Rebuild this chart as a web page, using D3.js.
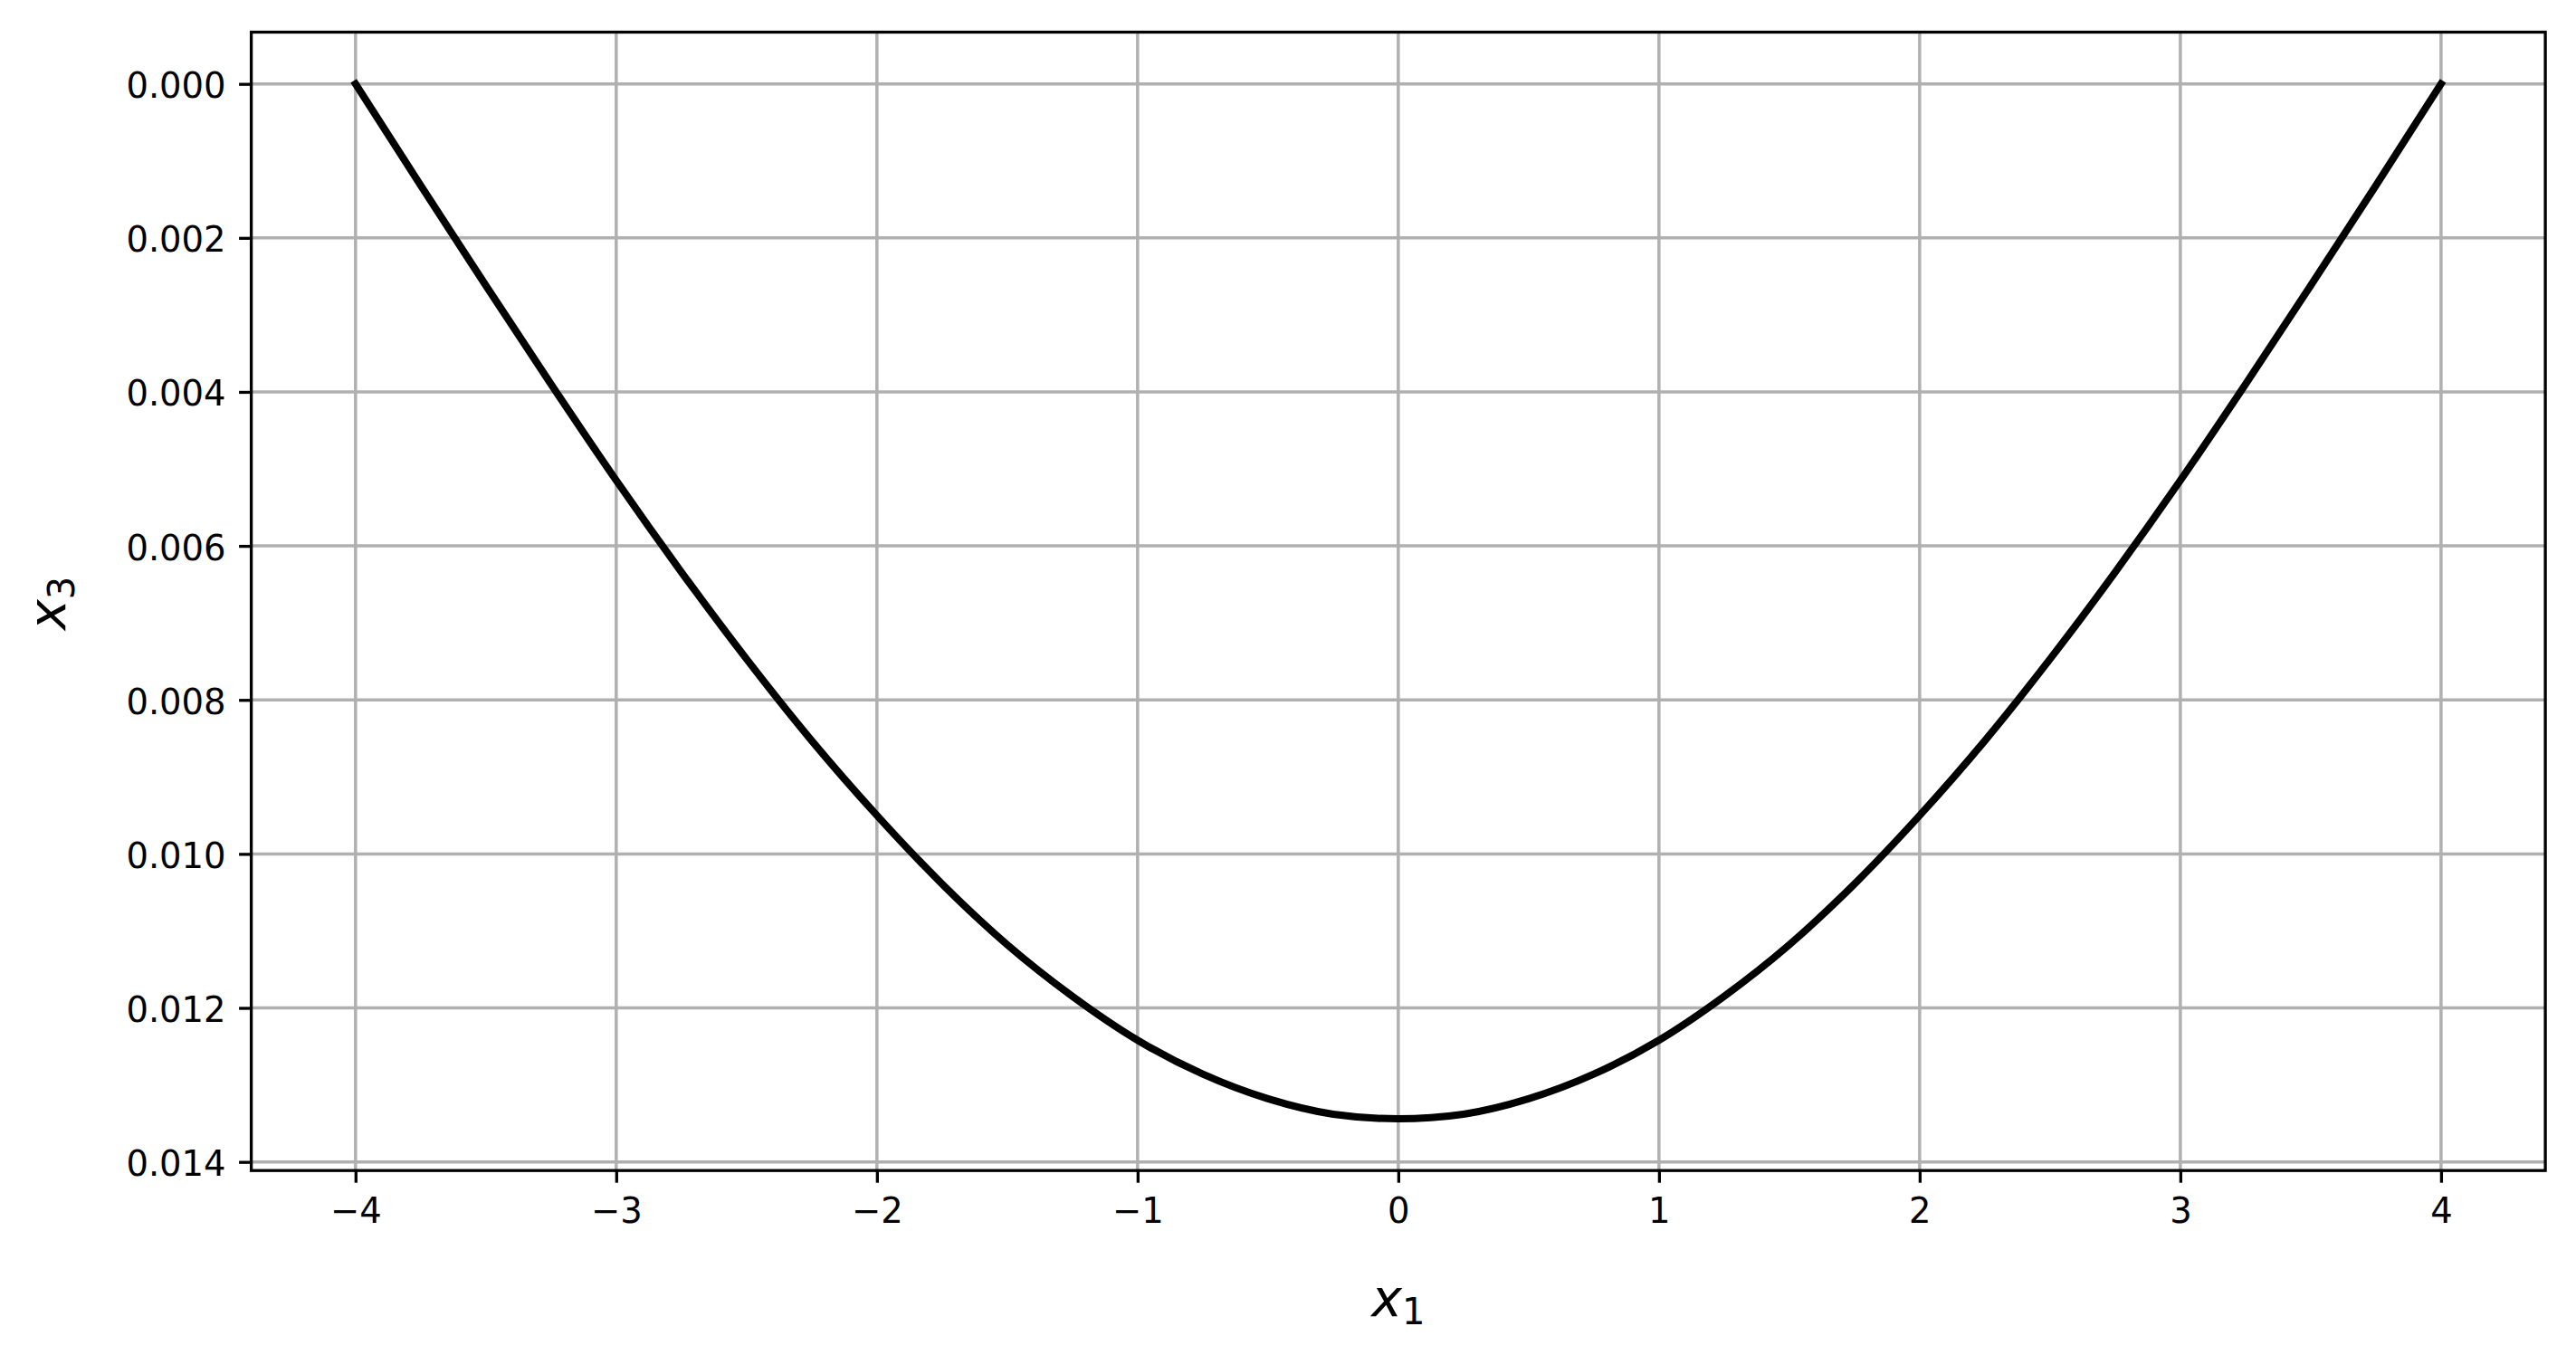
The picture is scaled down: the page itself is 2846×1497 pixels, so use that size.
<!DOCTYPE html>
<html>
<head>
<meta charset="utf-8">
<script src="https://cdn.jsdelivr.net/npm/d3@7"></script>
<style>
  html, body { margin: 0; padding: 0; background: #ffffff; }
  svg { display: block; }
  text { font-family: "DejaVu Sans", sans-serif; fill: #000; }
</style>
</head>
<body>
<script>
// ---- data ----
const x1Values = [-4, -3.75, -3.5, -3.25, -3, -2.75, -2.5, -2.25, -2, -1.75, -1.5, -1.25, -1, -0.75, -0.5, -0.25,
                  0, 0.25, 0.5, 0.75, 1, 1.25, 1.5, 1.75, 2, 2.25, 2.5, 2.75, 3, 3.25, 3.5, 3.75, 4];
const x3Values = [0.00000, 0.00132, 0.00262, 0.00390, 0.00515, 0.00634, 0.00747, 0.00853, 0.00950, 0.01039, 0.01118, 0.01185, 0.01242, 0.01286, 0.01318, 0.01338,
                  0.01344, 0.01338, 0.01318, 0.01286, 0.01242, 0.01185, 0.01118, 0.01039, 0.00950, 0.00853, 0.00747, 0.00634, 0.00515, 0.00390, 0.00262, 0.00132, 0.00000];
const xTickValues = [-4, -3, -2, -1, 0, 1, 2, 3, 4];
const yTickValues = [0.000, 0.002, 0.004, 0.006, 0.008, 0.010, 0.012, 0.014];
const xLabelMain = "x", xLabelSub = "1";
const yLabelMain = "x", yLabelSub = "3";

const W = 2846, H = 1497;
const L = 277.6, R = 2812.1, T = 35.5, B = 1293.2;

const points = x1Values.map((x, i) => ({x: x, y: x3Values[i]}));

function padded(ext) {
  const m = (ext[1] - ext[0]) * 0.05;
  return [ext[0] - m, ext[1] + m];
}
const xDom = padded(d3.extent(x1Values));
const yDom = padded(d3.extent(x3Values));

const xs = d3.scaleLinear().domain(xDom).range([L, R]);
const ys = d3.scaleLinear().domain(yDom).range([T, B]); // inverted axis: 0 at top

const svg = d3.select("body").append("svg")
  .attr("width", W).attr("height", H)
  .attr("viewBox", `0 0 ${W} ${H}`);

svg.append("rect").attr("width", W).attr("height", H).attr("fill", "#ffffff");

const gridColor = "#b0b0b0";
const gw = 3.5;

// grid
const grid = svg.append("g");
grid.selectAll("line.gx").data(xTickValues).enter().append("line")
  .attr("x1", d => xs(d)).attr("x2", d => xs(d))
  .attr("y1", T).attr("y2", B)
  .attr("stroke", gridColor).attr("stroke-width", gw);
grid.selectAll("line.gy").data(yTickValues).enter().append("line")
  .attr("y1", d => ys(d)).attr("y2", d => ys(d))
  .attr("x1", L).attr("x2", R)
  .attr("stroke", gridColor).attr("stroke-width", gw);

// curve
const line = d3.line().x(d => xs(d.x)).y(d => ys(d.y)).curve(d3.curveMonotoneX);
svg.append("path").datum(points)
  .attr("d", line)
  .attr("fill", "none")
  .attr("stroke", "#000")
  .attr("stroke-width", 8)
  .attr("stroke-linecap", "square")
  .attr("stroke-linejoin", "round");

// axes via d3
const fs = 38.5;
const xAxis = d3.axisBottom(xs).tickValues(xTickValues)
  .tickSize(13.5).tickPadding(14)
  .tickFormat(d => d < 0 ? "\u2212" + Math.abs(d) : String(d));
const gx = svg.append("g").attr("transform", `translate(0,${B})`).call(xAxis);
gx.select(".domain").remove();
gx.selectAll(".tick line").attr("stroke", "#000").attr("stroke-width", 3.3);
gx.selectAll(".tick text").attr("font-size", fs).attr("font-family", "DejaVu Sans").attr("fill", "#000")
  .attr("dy", null).attr("y", 57.5).attr("dominant-baseline", "alphabetic");

const yAxis = d3.axisLeft(ys).tickValues(yTickValues)
  .tickSize(13.5).tickPadding(14)
  .tickFormat(d3.format(".3f"));
const gy = svg.append("g").attr("transform", `translate(${L},0)`).call(yAxis);
gy.select(".domain").remove();
gy.selectAll(".tick line").attr("stroke", "#000").attr("stroke-width", 3.3);
gy.selectAll(".tick text").attr("font-size", fs).attr("font-family", "DejaVu Sans").attr("fill", "#000")
  .attr("dy", null).attr("y", 15).attr("x", -28).attr("dominant-baseline", "alphabetic");

// spines
svg.append("rect")
  .attr("x", L).attr("y", T).attr("width", R - L).attr("height", B - T)
  .attr("fill", "none").attr("stroke", "#000").attr("stroke-width", 3.3);

// x label
const xl = svg.append("text")
  .attr("x", (L + R) / 2).attr("y", 1454)
  .attr("text-anchor", "middle");
xl.append("tspan").attr("font-size", 57).attr("font-style", "italic").attr("font-family", "DejaVu Sans").text(xLabelMain);
xl.append("tspan").attr("font-size", 40).attr("dy", 9).attr("font-family", "DejaVu Sans").text(xLabelSub);

// y label
const ylab = svg.append("text")
  .attr("transform", `translate(72,${(T + B) / 2 + 2}) rotate(-90)`)
  .attr("text-anchor", "middle");
ylab.append("tspan").attr("font-size", 57).attr("font-style", "italic").attr("font-family", "DejaVu Sans").text(yLabelMain);
ylab.append("tspan").attr("font-size", 40).attr("dy", 10).attr("font-family", "DejaVu Sans").text(yLabelSub);
</script>
</body>
</html>
